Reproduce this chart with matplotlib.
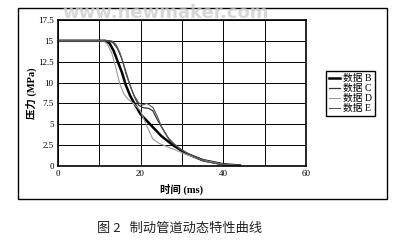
import matplotlib
matplotlib.use("Agg")
import matplotlib.pyplot as plt
from matplotlib.patches import Rectangle

plt.rcParams['font.family'] = ['Liberation Serif', 'Noto Sans CJK SC']

# data (time in ms, pressure in MPa)
t_b = [0, 11.5, 12.5, 13.5, 14.5, 15.5, 16.5, 17.5, 18.5, 20, 22.3, 25, 27.8, 31, 35, 40, 44]
p_b = [15, 15, 14.7, 13.8, 12.5, 11.2, 9.6, 8.4, 7.5, 6.2, 5.0, 3.6, 2.5, 1.5, 0.7, 0.2, 0.05]
t_c = [0, 12.5, 13.5, 14.5, 15.5, 16.5, 17.5, 18.5, 19.5, 20.5, 22, 23, 24, 25.5, 27, 29, 32, 36, 40, 44]
p_c = [15, 15, 14.7, 14.0, 12.8, 11.2, 9.6, 8.3, 7.3, 7.0, 6.9, 6.6, 5.6, 4.3, 3.1, 2.2, 1.3, 0.6, 0.2, 0.05]
t_d = [0, 11, 12, 13, 14, 15, 16, 17, 18.5, 20, 21.5, 23, 24.5, 26, 28, 31, 35, 40, 44]
p_d = [15, 15, 14.6, 13.6, 11.8, 9.8, 8.6, 8.0, 7.4, 6.6, 4.8, 3.2, 2.7, 2.4, 2.0, 1.4, 0.7, 0.2, 0.05]
t_e = [0, 13, 14, 15, 15.7, 16.5, 17.5, 18.5, 19.5, 20.5, 21.5, 23, 24, 25, 26.5, 28, 30, 33, 36, 40, 44]
p_e = [15, 15, 14.6, 13.6, 12.5, 11.0, 9.6, 8.4, 7.6, 7.3, 7.5, 7.0, 6.0, 4.8, 3.5, 2.7, 1.9, 1.1, 0.5, 0.15, 0.05]

labels = ['数据 B', '数据 C', '数据 D', '数据 E']
yticks = [0, 2.5, 5, 7.5, 10, 12.5, 15, 17.5]
ytick_labels = ['0', '2.5', '5', '7.5', '10', '12.5', '15', '17.5']
xticks = [0, 20, 40, 60]

fig = plt.figure(figsize=(4.13, 2.43), dpi=100)
fig.patch.set_facecolor('white')

# outer frame
fig.patches.append(Rectangle((0.044, 0.181), 0.893, 0.786, transform=fig.transFigure,
                             fill=False, edgecolor='black', linewidth=1.0))

ax = fig.add_axes([0.140, 0.317, 0.601, 0.601])
ax.plot(t_b, p_b, color='black', linewidth=1.8, label=labels[0])
ax.plot(t_c, p_c, color='#333333', linewidth=0.9, label=labels[1])
ax.plot(t_d, p_d, color='#999999', linewidth=0.8, label=labels[2])
ax.plot(t_e, p_e, color='#555555', linewidth=0.8, label=labels[3])

ax.set_xlim(0, 60)
ax.set_ylim(0, 17.5)
ax.set_xticks(xticks)
ax.set_xticks(range(0, 61, 10), minor=True)
ax.set_yticks(yticks)
ax.set_yticklabels(ytick_labels)
ax.tick_params(axis='both', labelsize=6.5, length=0, pad=3)
ax.tick_params(which='minor', length=0)
ax.grid(True, which='both', color='black', linewidth=0.7)
for s in ax.spines.values():
    s.set_linewidth(1.2)

ax.set_xlabel('时间 (ms)', fontsize=7.5, fontweight='bold', labelpad=4)
ax.set_ylabel('压力 (MPa)', fontsize=7.5, fontweight='bold', labelpad=1)

leg = fig.legend(loc='upper left', bbox_to_anchor=(0.777, 0.728), fontsize=7,
                 handlelength=1.2, handletextpad=0.3, labelspacing=0.1,
                 borderpad=0.3, fancybox=False, edgecolor='black', framealpha=1)
leg.get_frame().set_linewidth(1.0)

# watermark
fig.text(0.15, 0.925, 'www.newmaker.com', fontsize=13, color='#cccccc',
         fontweight='bold', family='DejaVu Sans', alpha=0.8)

fig.text(0.235, 0.045, '图 2   制动管道动态特性曲线', fontsize=9.5,
         family=['Noto Sans CJK SC'], color='#222222')

fig.savefig('out.png', dpi=100)
